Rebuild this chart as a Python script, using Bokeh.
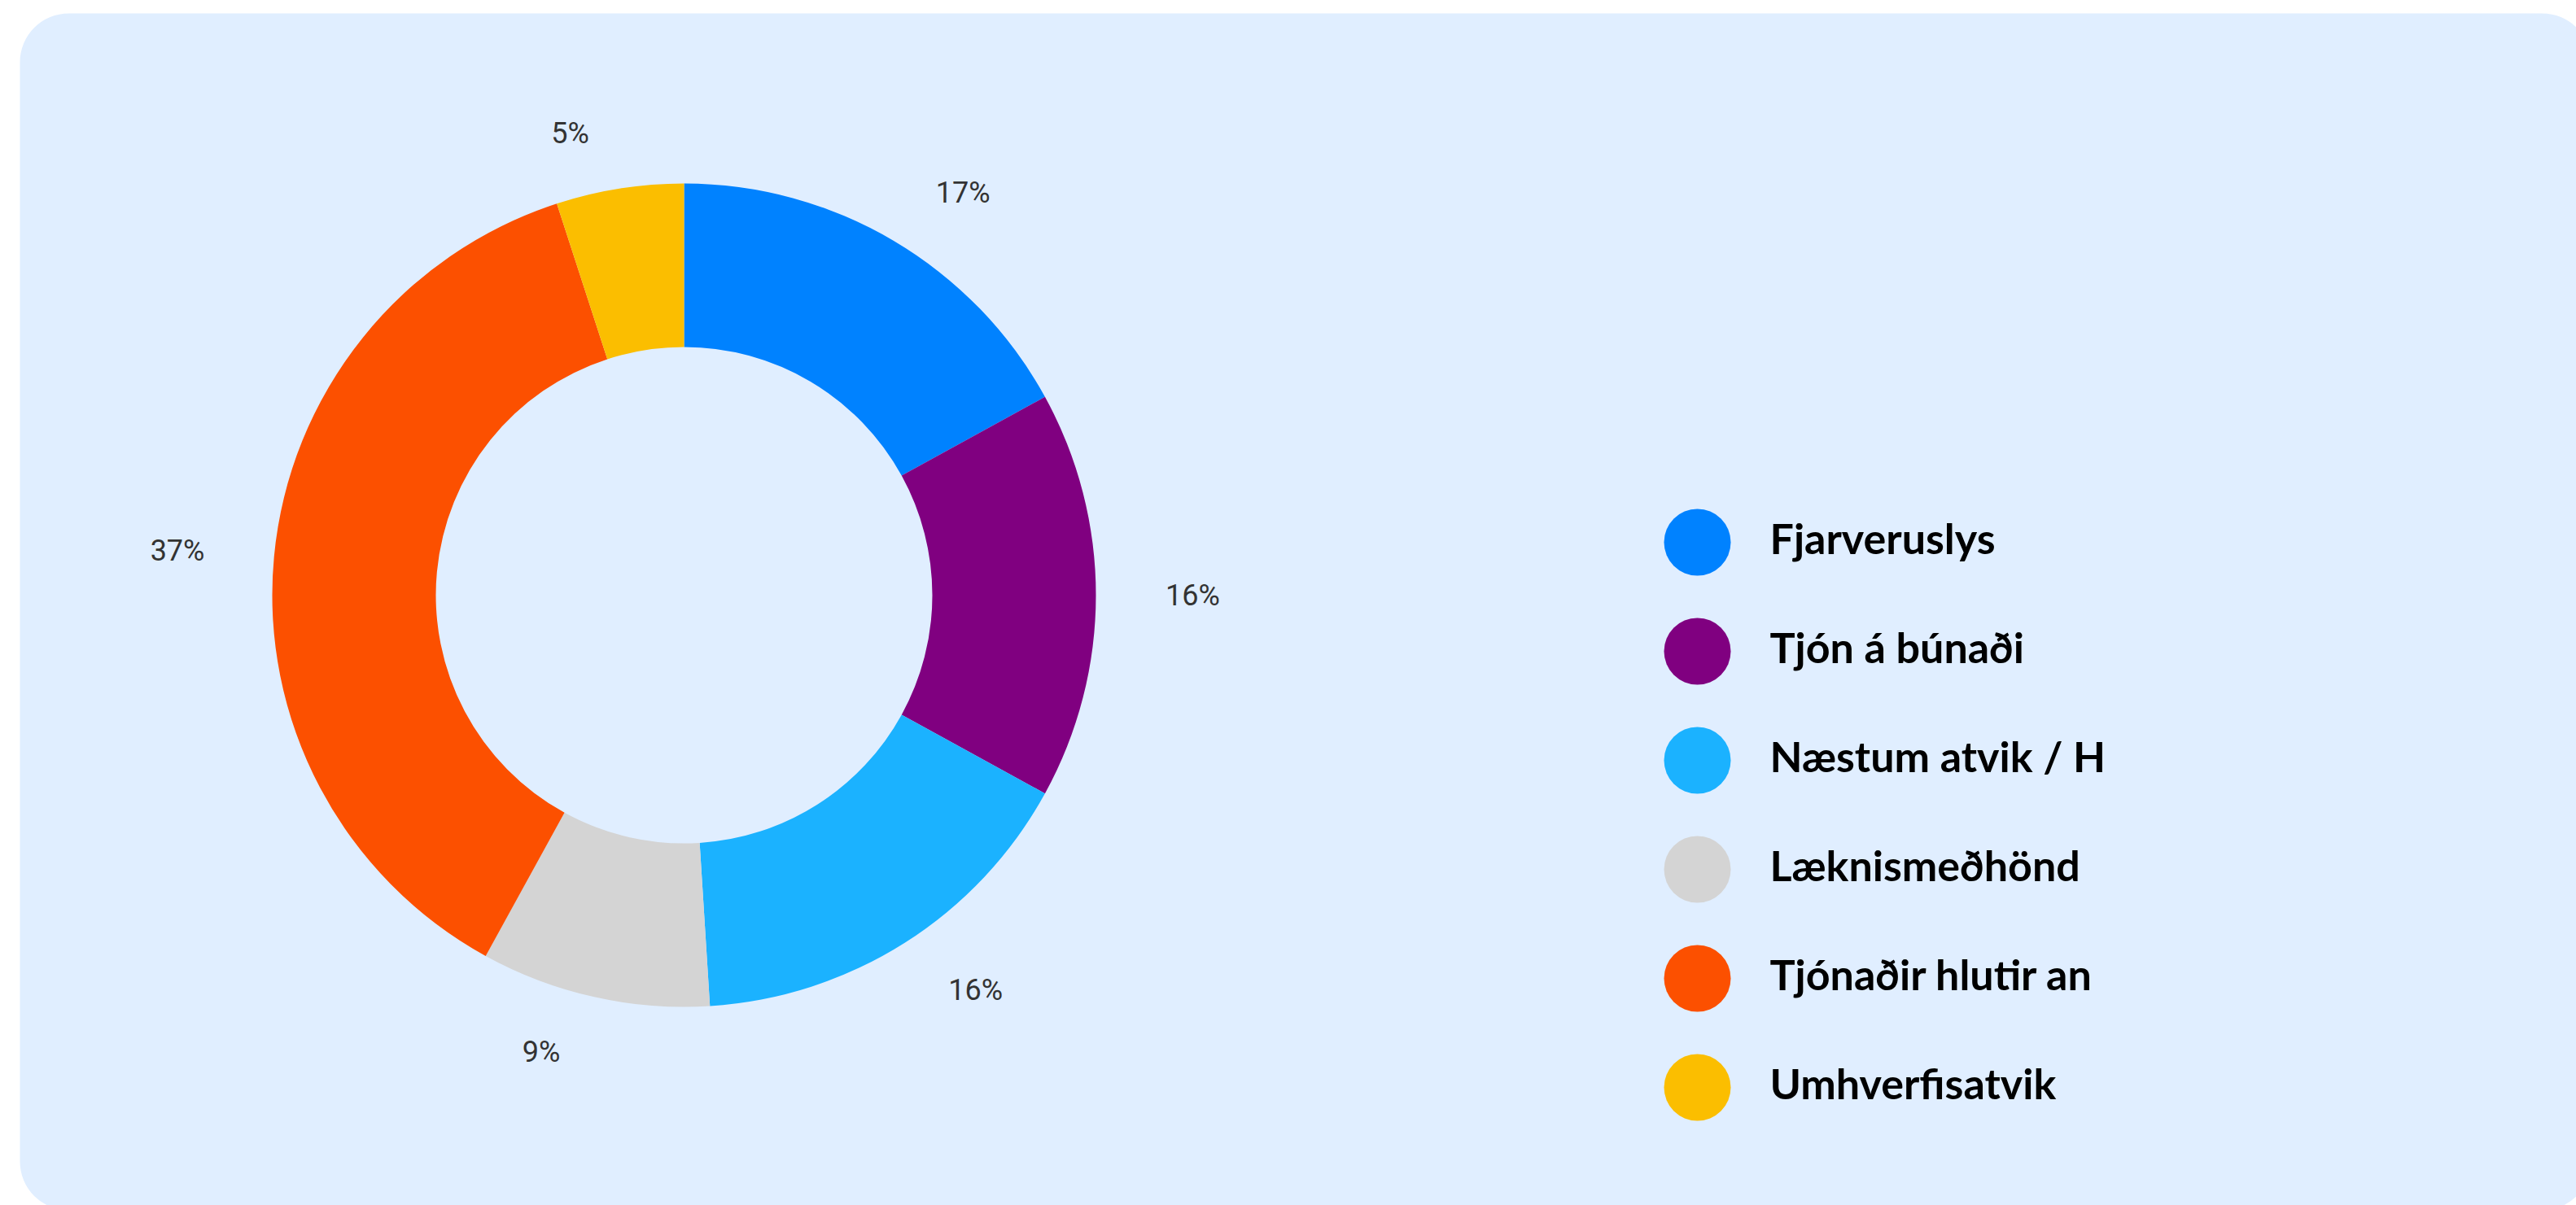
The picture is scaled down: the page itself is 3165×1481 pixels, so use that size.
import math
from bokeh.plotting import figure
from bokeh.models import Range1d, BoxAnnotation, ColumnDataSource
from bokeh.core.properties import value
from bokeh.embed import file_html
from bokeh.resources import INLINE

# ---- data ----
categories = ["Fjarveruslys", "Tjón á búnaði", "Næstum atvik / H",
              "Læknismeðhönd", "Tjónaðir hlutir an", "Umhverfisatvik"]
shares = [17, 16, 16, 9, 37, 5]
colors = ["#0082ff", "#800080", "#1bb2ff", "#d4d4d4", "#fc5000", "#fbbe00"]
BG = "#e0eeff"

W, H = 3165, 1481
p = figure(width=W, height=H, x_range=Range1d(0, W), y_range=Range1d(0, H),
           output_backend="svg", toolbar_location=None, min_border=0,
           x_axis_type=None, y_axis_type=None,
           background_fill_color="white", border_fill_color="white",
           outline_line_color=None)
p.grid.visible = False

box = BoxAnnotation(left=24, right=3183, bottom=H - 1487, top=H - 16,
                    fill_color=BG, fill_alpha=1.0, line_color=None,
                    border_radius=60, level="underlay")
p.add_layout(box)

# donut geometry (page px -> data)
cx, cy = 840, H - 731
R_out, R_in = 506, 305

total = sum(shares)
starts, ends, mids = [], [], []
acc = 0.0
for s in shares:
    a0 = math.pi / 2 - 2 * math.pi * acc / total
    acc += s
    a1 = math.pi / 2 - 2 * math.pi * acc / total
    starts.append(a0)
    ends.append(a1)
    mids.append((a0 + a1) / 2)

src = ColumnDataSource(dict(start=starts, end=ends, color=colors))
p.annular_wedge(x=cx, y=cy, inner_radius=R_in, outer_radius=R_out,
                start_angle="start", end_angle="end", direction="clock",
                fill_color="color", line_color=None, source=src)

r_lab, x_push = 575, 50
lab_x, lab_y = [], []
for m in mids:
    cm = math.cos(m)
    lab_x.append(cx + r_lab * cm + (x_push if cm > 0 else -x_push))
    lab_y.append(cy + r_lab * math.sin(m))
lab_src = ColumnDataSource(dict(x=lab_x, y=lab_y,
                                t=[f"{s}%" for s in shares]))
p.text(x="x", y="y", text="t", source=lab_src, text_align="center",
       text_baseline="middle", text_font=value("Roboto"),
       text_font_size="36px", text_color="#333333")

# legend
lx, ly0, step = 2085, H - 666, 134
leg_src = ColumnDataSource(dict(
    x=[lx] * len(categories),
    y=[ly0 - i * step for i in range(len(categories))],
    tx=[lx + 89] * len(categories),
    name=categories, color=colors))
p.circle(x="x", y="y", radius=41, fill_color="color", line_color=None,
         source=leg_src)
p.text(x="tx", y="y", text="name", source=leg_src, text_align="left",
       text_baseline="middle", text_font=value("Lato"),
       text_font_style="bold", text_font_size="52px", text_color="#000000",
       y_offset=-6)

open("out.html", "w").write(file_html(p, INLINE))
